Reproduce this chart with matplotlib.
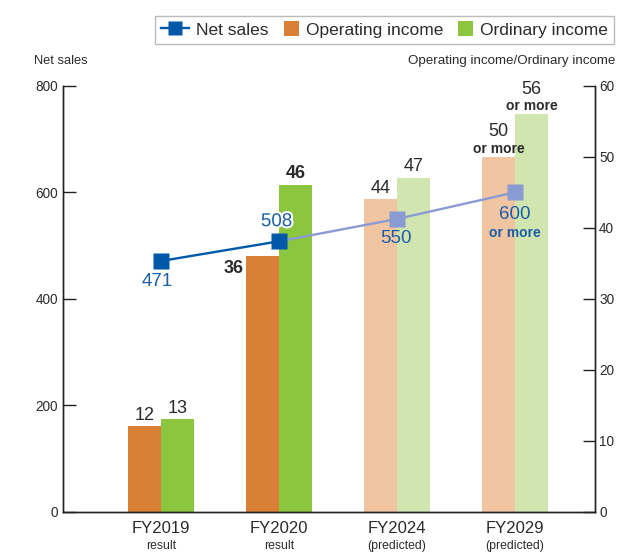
import matplotlib
matplotlib.use("Agg")
import matplotlib.pyplot as plt
from matplotlib.lines import Line2D
from matplotlib.patches import Patch, Rectangle
from matplotlib.legend_handler import HandlerPatch
import matplotlib.patheffects as pe

plt.rcParams['font.family'] = ['Liberation Sans', 'DejaVu Sans']

categories = ["FY2019", "FY2020", "FY2024", "FY2029"]
sublabels = ["result", "result", "(predicted)", "(predicted)"]
net_sales = [471, 508, 550, 600]
operating_income = [12, 36, 44, 50]
ordinary_income = [13, 46, 47, 56]
predicted = [False, False, True, True]

ORANGE = "#d98036"
GREEN = "#8cc63f"
L_ORANGE = "#f1c5a1"
L_GREEN = "#d1e5b1"
BLUE = "#0058a9"
L_BLUE = "#8a9bd3"
LBL_BLUE = "#1b5fa9"
TXT = "#2b2b2b"

fig = plt.figure(figsize=(6.4, 5.54), dpi=100)
ax = fig.add_axes([0.0977, 0.0767, 0.8320, 0.7681])
ax2 = ax.twinx()

x = list(range(len(categories)))
w = 0.28
op_colors = [L_ORANGE if p else ORANGE for p in predicted]
or_colors = [L_GREEN if p else GREEN for p in predicted]
ax.bar([i - w / 2 for i in x], operating_income, width=w, color=op_colors, zorder=2)
ax.bar([i + w / 2 for i in x], ordinary_income, width=w, color=or_colors, zorder=2)

ax.set_ylim(0, 60)
ax.set_xlim(-0.835, 3.678)
ax.yaxis.tick_right()
ax.set_yticks([0, 10, 20, 30, 40, 50, 60])
ax2.set_ylim(0, 800)
ax2.yaxis.tick_left()
ax2.set_yticks([0, 200, 400, 600, 800])

for a in (ax, ax2):
    a.spines['top'].set_visible(False)
    for s in ('left', 'right', 'bottom'):
        a.spines[s].set_color('#222222')
        a.spines[s].set_linewidth(1.0)
    a.tick_params(axis='y', direction='in', length=9, width=1, color='#222222',
                  labelsize=9.8, labelcolor=TXT, pad=3)
    a.set_xticks([])
ax.set_facecolor('none')

# net sales line
ax2.plot(x[:2], net_sales[:2], color=BLUE, lw=1.7, zorder=3)
ax2.plot(x[1:], net_sales[1:], color=L_BLUE, lw=1.7, zorder=3)
for i in x:
    ax2.plot(i, net_sales[i], marker='s', ms=12, color=L_BLUE if predicted[i] else BLUE,
             mec='none', zorder=4)

# category labels
for i in x:
    ax.text(i, -0.022, categories[i], transform=ax.get_xaxis_transform(), ha='center', va='top',
            fontsize=12, color=TXT)
    ax.text(i, -0.068, sublabels[i], transform=ax.get_xaxis_transform(), ha='center', va='top',
            fontsize=8.8, color=TXT)

# bar value labels
def lab(xv, yv, s, dx=0, dy=4, ha='center', va='bottom', size=13, weight='normal', color=TXT, axis=ax, **kw):
    axis.annotate(s, (xv, yv), xytext=(dx, dy), textcoords='offset points', ha=ha, va=va,
                  fontsize=size, fontweight=weight, color=color, zorder=6, **kw)

lab(0 - w / 2, operating_income[0], "12", dy=2)
lab(0 + w / 2, ordinary_income[0], "13", dy=2)
lab(1 - w / 2 - w / 2, operating_income[1], "36", dx=-2, dy=-3, ha='right', va='top', weight='bold')
lab(1 + w / 2, ordinary_income[1], "46", dy=2, weight='bold')
lab(2 - w / 2, operating_income[2], "44", dy=2)
lab(2 + w / 2, ordinary_income[2], "47", dy=2)
lab(3 - w / 2, operating_income[3], "or more", dy=1, size=10, weight='bold')
lab(3 - w / 2, operating_income[3], "50", dy=12)
lab(3 + w / 2, ordinary_income[3], "or more", dy=1, size=10, weight='bold')
lab(3 + w / 2, ordinary_income[3], "56", dy=12)

# net sales labels
stroke = [pe.withStroke(linewidth=3, foreground='white')]
lab(0 - 0.03, net_sales[0], "471", dy=-9, va='top', size=13.5, color=LBL_BLUE, axis=ax2)
lab(1 - 0.02, net_sales[1], "508", dy=8, va='bottom', size=13.5, color=LBL_BLUE, axis=ax2,
    path_effects=stroke)
lab(2 - 0.01, net_sales[2], "550", dy=-8, va='top', size=13.5, color=LBL_BLUE, axis=ax2)
lab(3, net_sales[3], "600", dy=-10, va='top', size=13.5, color=LBL_BLUE, axis=ax2)
lab(3, net_sales[3], "or more", dy=-24, va='top', size=10, weight='bold', color=LBL_BLUE, axis=ax2)

# axis titles
fig.text(34 / 640, 1 - 61 / 554, "Net sales", ha='left', va='center', fontsize=9.3, color=TXT)
fig.text(615 / 640, 1 - 61 / 554, "Operating income/Ordinary income", ha='right', va='center',
         fontsize=9.6, color=TXT)


# legend with small square patches
class SquareHandler(HandlerPatch):
    def create_artists(self, legend, orig_handle, xdescent, ydescent, width, height,
                       fontsize, trans):
        s = 10.8
        r = Rectangle((-xdescent + width - s, -ydescent + height / 2 - s / 2), s, s,
                      facecolor=orig_handle.get_facecolor(), edgecolor='none', transform=trans)
        return [r]


handles = [Line2D([0], [0], color=BLUE, lw=1.7, marker='s', ms=10, mec='none'),
           Patch(color=ORANGE), Patch(color=GREEN)]
leg = fig.legend(handles, ["Net sales", "Operating income", "Ordinary income"],
                 loc='upper right', bbox_to_anchor=(623 / 640, 1 - 7 / 554), ncol=3,
                 fontsize=12.5, frameon=True, fancybox=False, handlelength=1.6,
                 handleheight=0.9, handletextpad=0.4, columnspacing=0.15, borderpad=0.35,
                 labelcolor=TXT, handler_map={Patch: SquareHandler()})
leg.get_frame().set_edgecolor('#aaaaaa')
leg.get_frame().set_linewidth(1.0)

fig.savefig("out.png", dpi=100)
